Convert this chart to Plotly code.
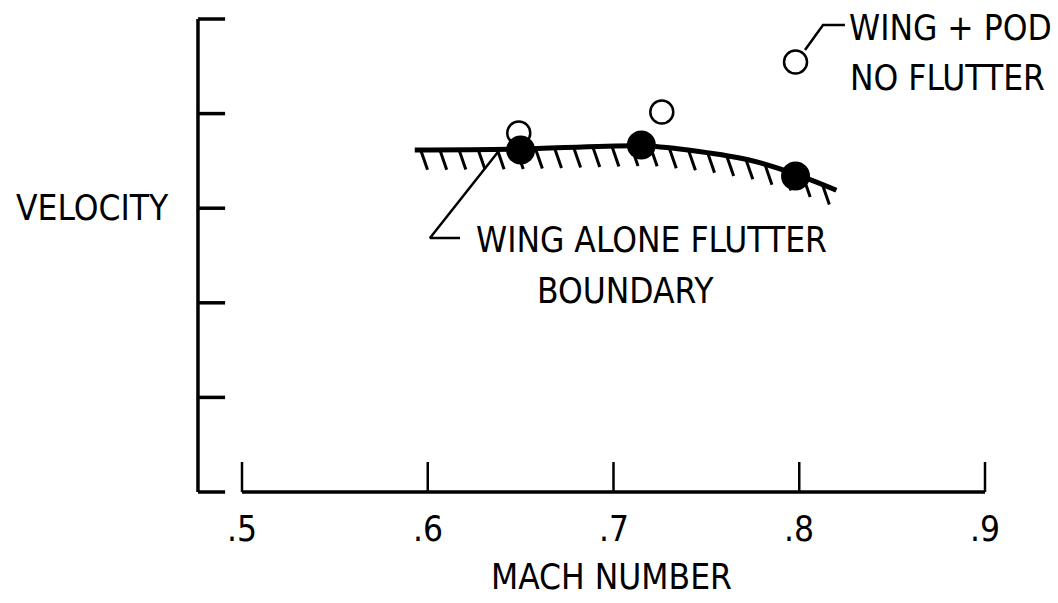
import numpy as np
import plotly.graph_objects as go

# ---- data ----
mach_ticks = [0.5, 0.6, 0.7, 0.8, 0.9]
mach_tick_labels = [".5", ".6", ".7", ".8", ".9"]
velocity_ticks = [0, 1, 2, 3, 4, 5]

# wing alone flutter boundary (faired curve)
boundary_mach = [0.593, 0.650, 0.716, 0.746, 0.773, 0.798, 0.820]
boundary_vel = [3.615, 3.625, 3.660, 3.600, 3.510, 3.360, 3.190]

# wing alone flutter points (filled)
flutter_mach = [0.650, 0.715, 0.798]
flutter_vel = [3.615, 3.668, 3.340]

# wing + pod, no flutter (open)
nofl_mach = [0.649, 0.726, 0.798]
nofl_vel = [3.795, 4.017, 4.545]

FONT = "Liberation Sans Narrow, DejaVu Sans Condensed, Arial Narrow, sans-serif"
INK = "black"

fig = go.Figure()

# axes drawn in data coordinates
yaxis_x = 0.4763
ytick_len = 0.0146
xtick_len = 0.317

fig.add_trace(go.Scatter(x=[yaxis_x, yaxis_x], y=[velocity_ticks[0], velocity_ticks[-1]],
                         mode="lines", line=dict(color=INK, width=3.5), hoverinfo="skip"))
tx, ty = [], []
for v in velocity_ticks:
    tx += [yaxis_x, yaxis_x + ytick_len, None]
    ty += [v, v, None]
fig.add_trace(go.Scatter(x=tx, y=ty, mode="lines", line=dict(color=INK, width=3.5), hoverinfo="skip"))

fig.add_trace(go.Scatter(x=[mach_ticks[0], mach_ticks[-1]], y=[0, 0],
                         mode="lines", line=dict(color=INK, width=3.5), hoverinfo="skip"))
tx, ty = [], []
for m in mach_ticks:
    tx += [m, m, None]
    ty += [0, xtick_len, None]
fig.add_trace(go.Scatter(x=tx, y=ty, mode="lines", line=dict(color=INK, width=2.5), hoverinfo="skip"))

# open circles (drawn beneath)
fig.add_trace(go.Scatter(x=nofl_mach, y=nofl_vel, mode="markers",
                         marker=dict(size=23, color="white", line=dict(color=INK, width=2.5)),
                         hoverinfo="skip"))

# hatching under the boundary
hx, hy = [], []
for m in np.arange(0.5962, 0.8185, 0.0103):
    v = np.interp(m, boundary_mach, boundary_vel)
    hx += [m, m + 0.0037, None]
    hy += [v, v - 0.21, None]
fig.add_trace(go.Scatter(x=hx, y=hy, mode="lines", line=dict(color=INK, width=3), hoverinfo="skip"))

# boundary curve
fig.add_trace(go.Scatter(x=boundary_mach, y=boundary_vel, mode="lines",
                         line=dict(color=INK, width=5, shape="spline", smoothing=0.8),
                         hoverinfo="skip"))

# filled flutter points
fig.add_trace(go.Scatter(x=flutter_mach, y=flutter_vel, mode="markers",
                         marker=dict(size=29, color=INK), hoverinfo="skip"))

# leader lines
fig.add_trace(go.Scatter(x=[0.8031, 0.8128, 0.8246], y=[4.672, 4.937, 4.937], mode="lines",
                         line=dict(color=INK, width=2.5), hoverinfo="skip"))
fig.add_trace(go.Scatter(x=[0.6378, 0.6012, 0.6174], y=[3.594, 2.685, 2.685], mode="lines",
                         line=dict(color=INK, width=2.5), hoverinfo="skip"))

ann = []
for m, lab in zip(mach_ticks, mach_tick_labels):
    ann.append(dict(x=m, y=-0.39, text=lab, showarrow=False, xanchor="center", yanchor="middle",
                    font=dict(size=35, family=FONT, color=INK)))

def txt(x, y, s, anchor="left"):
    ann.append(dict(x=x, y=y, text=s, showarrow=False, xanchor=anchor, yanchor="middle",
                    font=dict(size=35, family=FONT, color=INK)))

txt(0.6987, -0.90, "MACH NUMBER", "center")
txt(0.6250, 2.66, "WING ALONE FLUTTER")
txt(0.7062, 2.12, "BOUNDARY", "center")
txt(0.8255, 4.91, "WING + POD")
txt(0.8265, 4.38, "NO FLUTTER")
ann.append(dict(x=0.377, y=3.0, text="VELOCITY", showarrow=False, xanchor="left", yanchor="middle",
                font=dict(size=35, family=FONT, color=INK)))

fig.update_layout(
    width=1058, height=603,
    margin=dict(l=0, r=0, t=0, b=0),
    paper_bgcolor="white", plot_bgcolor="white",
    showlegend=False,
    xaxis=dict(range=[0.369718, 0.939300], visible=False, fixedrange=True),
    yaxis=dict(range=[-1.17336, 5.20085], visible=False, fixedrange=True),
    annotations=ann,
)

fig.write_html("out.html", config={"displayModeBar": False})
